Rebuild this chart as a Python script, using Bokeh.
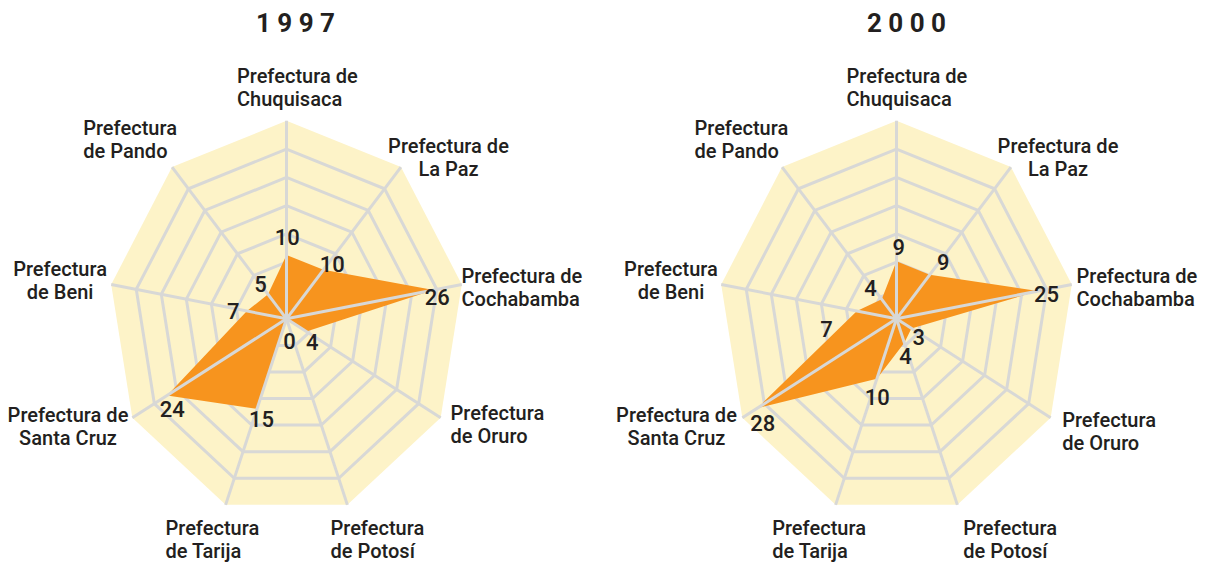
import math
from bokeh.plotting import figure
from bokeh.models import Range1d, ColumnDataSource
from bokeh.core.properties import value
from bokeh.embed import file_html
from bokeh.resources import INLINE

# ---------------- data ----------------
categories = ["Chuquisaca", "La Paz", "Cochabamba", "Oruro", "Potosí",
              "Tarija", "Santa Cruz", "Beni", "Pando"]
category_labels = [
    ["Prefectura de", "Chuquisaca"],
    ["Prefectura de", "La Paz"],
    ["Prefectura de", "Cochabamba"],
    ["Prefectura", "de Oruro"],
    ["Prefectura", "de Potosí"],
    ["Prefectura", "de Tarija"],
    ["Prefectura de", "Santa Cruz"],
    ["Prefectura", "de Beni"],
    ["Prefectura", "de Pando"],
]
years = ["1997", "2000"]
values_1997 = [10, 10, 26, 4, 0, 15, 24, 7, 5]
values_2000 = [9, 9, 25, 3, 4, 10, 28, 7, 4]
series = [values_1997, values_2000]

# ---------------- style / layout ----------------
W, H = 1205, 562
R_MAX = 31          # value at the outer edge
N_RINGS = 7
RX, RY = 178, 198   # outer radius in px (x, y)
CENTERS = [(286, 318.3), (896, 318.3)]
TITLE_POS = [(295, 22), (906, 22)]
BG = "#FDF3C8"
GRID = "#D8D8D6"
ORANGE = "#F7941E"
INK = "#231F20"
FONT = "Roboto Medium"
TITLE_FONT = "Roboto"
LINE_GAP = 23
# category label anchor (x, y of first line, align) per chart
LABEL_POS = [
    [(236.5, 75.5, "left"), (448, 145, "center"), (461, 275, "left"),
     (450, 412.5, "left"), (330, 527.5, "left"), (165, 527.5, "left"),
     (67.5, 414, "center"), (59.6, 268.5, "center"), (82.7, 127.5, "left")],
    [(846, 75.5, "left"), (1057.5, 145, "center"), (1076, 275, "left"),
     (1061.7, 419.5, "left"), (962.7, 527.5, "left"), (771.7, 527.5, "left"),
     (676, 414, "center"), (670.5, 268.5, "center"), (694, 127.5, "left")],
]
# value label offsets (px) from the data point
VAL_OFF = [
    [(0.7, -17.7), (8.8, -6.1), (3.7, 7.2), (5.8, 10.6), (3, 22.4),
     (4.5, 10), (5, 13.4), (-13.7, -0.5), (-7.5, -10.5)],
    [(2.3, -14.1), (13.5, -12.6), (8.6, 2.7), (7.4, 8.8), (1.1, 12.7),
     (0.3, 18.4), (5.5, 15), (-30.4, 17.8), (-11.2, -11)],
]

n = len(categories)
angles = [math.radians(90 - 360.0 / n * i) for i in range(n)]

p = figure(width=W, height=H, output_backend="svg", toolbar_location=None,
           x_range=Range1d(0, W), y_range=Range1d(H, 0),
           x_axis_type=None, y_axis_type=None, min_border=0)
p.outline_line_color = None
p.grid.visible = False
p.background_fill_color = "white"


def pt(c, v, a):
    cx, cy = c
    return cx + v / R_MAX * RX * math.cos(a), cy - v / R_MAX * RY * math.sin(a)


for k, (c, vals) in enumerate(zip(CENTERS, series)):
    # background
    ox = [pt(c, R_MAX, a)[0] for a in angles]
    oy = [pt(c, R_MAX, a)[1] for a in angles]
    p.patch(ox, oy, fill_color=BG, line_color=None)
    # rings
    rxs, rys = [], []
    for r in range(1, N_RINGS):
        v = R_MAX * r / N_RINGS
        xs = [pt(c, v, a)[0] for a in angles]
        ys = [pt(c, v, a)[1] for a in angles]
        rxs.append(xs + [xs[0]])
        rys.append(ys + [ys[0]])
    p.multi_line(rxs, rys, line_color=GRID, line_width=3, line_join="miter")
    # data polygon
    dx = [pt(c, v, a)[0] for v, a in zip(vals, angles)]
    dy = [pt(c, v, a)[1] for v, a in zip(vals, angles)]
    p.patch(dx, dy, fill_color=ORANGE, line_color=None)
    # spokes
    p.segment(x0=[c[0]] * n, y0=[c[1]] * n, x1=ox, y1=oy,
              line_color=GRID, line_width=3)
    # value labels
    src = ColumnDataSource(dict(
        x=[x + o[0] for x, o in zip(dx, VAL_OFF[k])],
        y=[y + o[1] for y, o in zip(dy, VAL_OFF[k])],
        t=[str(v) for v in vals]))
    p.text("x", "y", "t", source=src, text_font=value(FONT),
           text_font_size="22px", text_color=INK, text_align="center",
           text_baseline="middle")
    # category labels
    lx, ly, lt, la = [], [], [], []
    for lines, (x0, y0, al) in zip(category_labels, LABEL_POS[k]):
        for j, line in enumerate(lines):
            lx.append(x0)
            ly.append(y0 + j * LINE_GAP)
            lt.append(line)
            la.append(al)
    src2 = ColumnDataSource(dict(x=lx, y=ly, t=lt, a=la))
    p.text("x", "y", "t", source=src2, text_font=value(FONT),
           text_font_size="20px", text_color=INK, text_align="a",
           text_baseline="middle")
    # title
    p.text([TITLE_POS[k][0]], [TITLE_POS[k][1]], [" ".join(years[k])],
           text_font=value(TITLE_FONT), text_font_size="26px",
           text_font_style="bold", text_color=INK, text_align="center",
           text_baseline="middle")

open("out.html", "w").write(file_html(p, INLINE))
